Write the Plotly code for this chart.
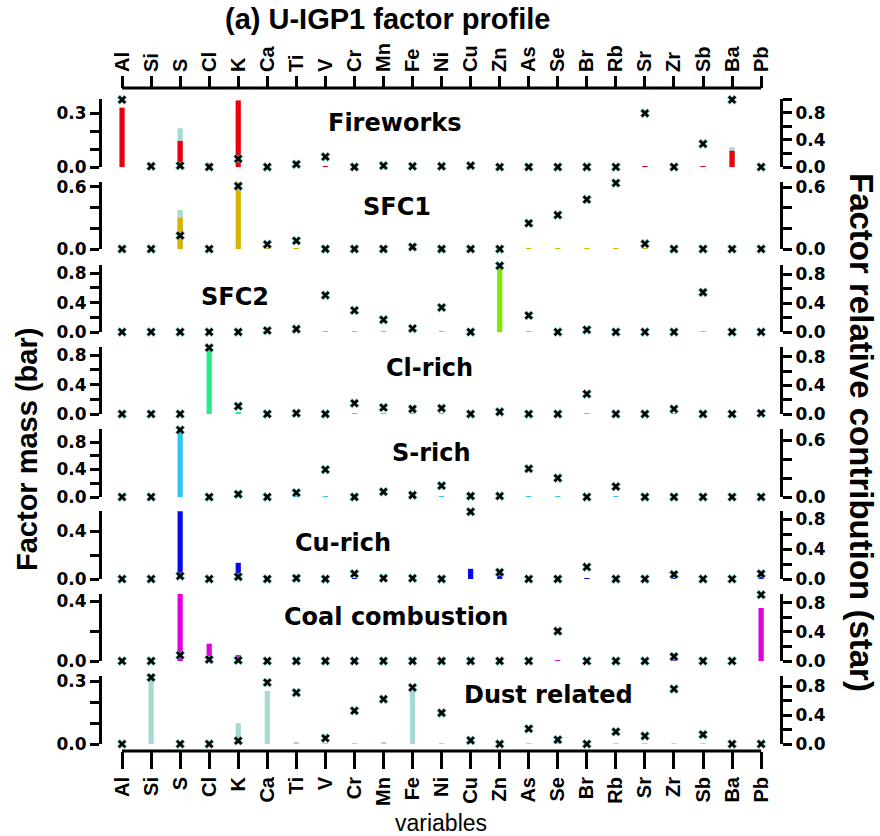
import plotly.graph_objects as go

# ---------------------------------------------------------------------------
# Data
# ---------------------------------------------------------------------------
elements = ["Al", "Si", "S", "Cl", "K", "Ca", "Ti", "V", "Cr", "Mn", "Fe", "Ni",
            "Cu", "Zn", "As", "Se", "Br", "Rb", "Sr", "Zr", "Sb", "Ba", "Pb"]

factor_names = ["Fireworks", "SFC1", "SFC2", "Cl-rich", "S-rich", "Cu-rich",
                "Coal combustion", "Dust related"]

#                   Al    Si    S      Cl     K      Ca     Ti     V      Cr     Mn     Fe     Ni     Cu     Zn     As     Se     Br     Rb     Sr     Zr     Sb     Ba     Pb
fireworks_mass    = [0.33, 0.0,  0.145, 0.02,  0.37,  0.0,   0.0,   0.005, 0.0,   0.0,   0.0,   0.0,   0.0,   0.0,   0.0,   0.0,   0.0,   0.0,   0.005, 0.0,   0.005, 0.09,  0.0]
fireworks_upper   = [0.0,  0.0,  0.215, 0.0,   0.0,   0.0,   0.0,   0.0,   0.0,   0.0,   0.0,   0.0,   0.0,   0.0,   0.0,   0.0,   0.0,   0.0,   0.0,   0.0,   0.0,   0.11,  0.0]
fireworks_contrib = [0.99, 0.01, 0.02,  0.0,   0.12,  0.0,   0.04,  0.15,  0.0,   0.02,  0.01,  0.01,  0.02,  0.0,   0.0,   0.0,   0.0,   0.0,   0.79,  0.0,   0.34,  0.99,  0.0]

sfc1_mass         = [0.0,  0.0,  0.30,  0.0,   0.64,  0.006, 0.006, 0.0,   0.0,   0.0,   0.0,   0.0,   0.0,   0.0,   0.006, 0.006, 0.006, 0.006, 0.006, 0.0,   0.0,   0.0,   0.0]
sfc1_upper        = [0.0,  0.0,  0.375, 0.0,   0.0,   0.0,   0.0,   0.0,   0.0,   0.0,   0.0,   0.0,   0.0,   0.0,   0.0,   0.0,   0.0,   0.0,   0.0,   0.0,   0.0,   0.0,   0.0]
sfc1_contrib      = [0.0,  0.0,  0.13,  0.0,   0.61,  0.045, 0.08,  0.0,   0.0,   0.0,   0.02,  0.0,   0.0,   0.0,   0.25,  0.33,  0.48,  0.64,  0.05,  0.0,   0.0,   0.0,   0.0]

sfc2_mass         = [0.0,  0.0,  0.0,   0.0,   0.0,   0.0,   0.0,   0.008, 0.008, 0.008, 0.05,  0.008, 0.0,   0.90,  0.008, 0.0,   0.0,   0.0,   0.0,   0.0,   0.008, 0.0,   0.0]
sfc2_contrib      = [0.0,  0.0,  0.0,   0.0,   0.0,   0.02,  0.04,  0.51,  0.30,  0.17,  0.05,  0.34,  0.0,   0.92,  0.23,  0.0,   0.03,  0.0,   0.0,   0.0,   0.55,  0.0,   0.0]

clrich_mass       = [0.0,  0.0,  0.0,   0.91,  0.02,  0.0,   0.0,   0.0,   0.008, 0.008, 0.008, 0.008, 0.0,   0.0,   0.0,   0.0,   0.008, 0.0,   0.0,   0.01,  0.0,   0.0,   0.0]
clrich_contrib    = [0.0,  0.0,  0.0,   0.93,  0.11,  0.0,   0.01,  0.0,   0.15,  0.09,  0.07,  0.08,  0.0,   0.03,  0.0,   0.0,   0.28,  0.0,   0.0,   0.07,  0.0,   0.0,   0.01]

srich_mass        = [0.0,  0.0,  0.97,  0.0,   0.0,   0.0,   0.01,  0.008, 0.0,   0.0,   0.0,   0.008, 0.0,   0.0,   0.008, 0.008, 0.0,   0.008, 0.0,   0.0,   0.0,   0.0,   0.0]
srich_contrib     = [0.0,  0.0,  0.71,  0.0,   0.03,  0.0,   0.045, 0.29,  0.0,   0.055, 0.02,  0.12,  0.01,  0.01,  0.30,  0.20,  0.0,   0.11,  0.0,   0.0,   0.0,   0.0,   0.0]

curich_mass       = [0.0,  0.0,  0.565, 0.0,   0.135, 0.0,   0.0,   0.0,   0.006, 0.0,   0.0,   0.0,   0.085, 0.07,  0.0,   0.0,   0.006, 0.0,   0.0,   0.006, 0.0,   0.0,   0.06]
curich_contrib    = [0.0,  0.0,  0.04,  0.0,   0.03,  0.0,   0.01,  0.0,   0.07,  0.01,  0.01,  0.0,   0.90,  0.09,  0.0,   0.0,   0.16,  0.0,   0.0,   0.06,  0.0,   0.0,   0.07]

coal_mass         = [0.0,  0.0,  0.45,  0.116, 0.04,  0.0,   0.0,   0.0,   0.0,   0.0,   0.0,   0.0,   0.0,   0.0,   0.0,   0.006, 0.0,   0.0,   0.0,   0.008, 0.0,   0.0,   0.356]
coal_contrib      = [0.0,  0.0,  0.08,  0.02,  0.01,  0.0,   0.0,   0.0,   0.0,   0.0,   0.0,   0.0,   0.0,   0.0,   0.0,   0.41,  0.0,   0.0,   0.0,   0.06,  0.0,   0.0,   0.91]

dust_mass         = [0.0,  0.31, 0.0,   0.0,   0.10,  0.254, 0.01,  0.004, 0.004, 0.006, 0.27,  0.004, 0.004, 0.004, 0.004, 0.004, 0.004, 0.004, 0.004, 0.004, 0.004, 0.0,   0.0]
dust_contrib      = [0.0,  0.92, 0.0,   0.0,   0.045, 0.85,  0.71,  0.08,  0.46,  0.62,  0.78,  0.43,  0.05,  0.0,   0.21,  0.06,  0.0,   0.17,  0.11,  0.76,  0.13,  0.0,   0.0]

# ---------------------------------------------------------------------------
# Styling / geometry
# ---------------------------------------------------------------------------
W, H = 880, 836
PL, PR, PT, PB = 102, 780, 88, 751          # plot-area pixel box

def px_x(p):
    return (p - PL) / (PR - PL)

def px_y(p):
    return (PB - p) / (PB - PT)

TEAL = "#a6d9d2"
factors = [
    dict(name=factor_names[0], color="#e8000b", mass=fireworks_mass, upper=fireworks_upper, contrib=fireworks_contrib),
    dict(name=factor_names[1], color="#d8b400", mass=sfc1_mass, upper=sfc1_upper, contrib=sfc1_contrib),
    dict(name=factor_names[2], color="#77ee00", mass=sfc2_mass, upper=None, contrib=sfc2_contrib),
    dict(name=factor_names[3], color="#22ee88", mass=clrich_mass, upper=None, contrib=clrich_contrib),
    dict(name=factor_names[4], color="#2ec4f4", mass=srich_mass, upper=None, contrib=srich_contrib),
    dict(name=factor_names[5], color="#0a0ae8", mass=curich_mass, upper=None, contrib=curich_contrib),
    dict(name=factor_names[6], color="#dd00dd", mass=coal_mass, upper=None, contrib=coal_contrib),
    dict(name=factor_names[7], color=TEAL, mass=dust_mass, upper=None, contrib=dust_contrib),
]

# panel pixel top / zero line, axis maxima, tick values and labelled ticks
panels = [
    dict(top=99,  zero=167, lmax=0.378, rmax=1.0,
         lt=[0, .1, .2, .3], ll=[0, .3], rt=[0, .2, .4, .6, .8, 1.0], rl=[0, .4, .8]),
    dict(top=182, zero=249, lmax=0.645, rmax=0.65,
         lt=[0, .2, .4, .6], ll=[0, .6], rt=[0, .2, .4, .6], rl=[0, .6]),
    dict(top=265, zero=332, lmax=0.91, rmax=0.93,
         lt=[0, .2, .4, .6, .8], ll=[0, .4, .8], rt=[0, .2, .4, .6, .8], rl=[0, .4, .8]),
    dict(top=347, zero=414, lmax=0.91, rmax=0.94,
         lt=[0, .2, .4, .6, .8], ll=[0, .4, .8], rt=[0, .2, .4, .6, .8], rl=[0, .4, .8]),
    dict(top=429, zero=497, lmax=0.99, rmax=0.72,
         lt=[0, .2, .4, .6, .8], ll=[0, .4, .8], rt=[0, .2, .4, .6], rl=[0, .6]),
    dict(top=511, zero=579, lmax=0.567, rmax=0.91,
         lt=[0, .2, .4], ll=[0, .4], rt=[0, .2, .4, .6, .8], rl=[0, .4, .8]),
    dict(top=594, zero=661, lmax=0.45, rmax=0.92,
         lt=[0, .2, .4], ll=[0, .4], rt=[0, .2, .4, .6, .8], rl=[0, .4, .8]),
    dict(top=676, zero=744, lmax=0.326, rmax=0.94,
         lt=[0, .1, .2, .3], ll=[0, .3], rt=[0, .2, .4, .6, .8], rl=[0, .4, .8]),
]
label_pos = [(394, 123), (397, 207), (235, 297), (429, 368), (431, 453),
             (343, 543), (396, 617), (548, 695)]

NUM_FONT = dict(family="DejaVu Sans", size=17, color="black", weight="bold")
BAR_W = 0.18
x_idx = list(range(len(elements)))

fig = go.Figure()
layout = {}

def fmt(vals, labelled):
    return ["%.1f" % v if any(abs(v - l) < 1e-9 for l in labelled) else "" for v in vals]

for i, (f, p) in enumerate(zip(factors, panels)):
    lid, rid = i + 1, i + 9
    lref = "y" if lid == 1 else f"y{lid}"
    rref = f"y{rid}"
    lkey = "yaxis" if lid == 1 else f"yaxis{lid}"
    rkey = f"yaxis{rid}"
    dom = [px_y(p["zero"]), px_y(p["top"])]

    if f["upper"] is not None:
        fig.add_trace(go.Bar(x=x_idx, y=f["upper"], width=BAR_W, marker_color=TEAL,
                             marker_line_width=0, yaxis=lref, xaxis="x",
                             cliponaxis=False, showlegend=False, hoverinfo="skip"))
    fig.add_trace(go.Bar(x=x_idx, y=f["mass"], width=BAR_W, marker_color=f["color"],
                         marker_line_width=0, yaxis=lref, xaxis="x", name=f["name"],
                         cliponaxis=False, showlegend=False))
    fig.add_trace(go.Scatter(x=x_idx, y=f["contrib"], mode="markers", yaxis=rref, xaxis="x",
                             marker=dict(symbol="x", size=8, color="black",
                                         line=dict(width=0.8, color="#6cc9c0")),
                             cliponaxis=False, showlegend=False, name=f["name"]))

    common = dict(showgrid=False, zeroline=False, showline=True, linewidth=3,
                  linecolor="black", ticks="outside", ticklen=9, tickwidth=2.5,
                  tickcolor="black", tickfont=NUM_FONT, anchor="x")
    layout[lkey] = dict(domain=dom, range=[0, p["lmax"]], tickvals=p["lt"],
                        ticktext=fmt(p["lt"], p["ll"]), side="left", **common)
    layout[rkey] = dict(domain=dom, range=[0, p["rmax"]], tickvals=p["rt"],
                        ticktext=fmt(p["rt"], p["rl"]), side="right",
                        overlaying=lref, **common)

# invisible helper so the top category axis is drawn
fig.add_trace(go.Scatter(x=[0], y=[0], xaxis="x2", yaxis="y", mode="markers",
                         marker=dict(opacity=0), showlegend=False, hoverinfo="skip"))

XMIN, XMAX = -0.69, 22.65
cat_font = dict(family="Liberation Sans", size=20, color="black", weight="bold")
layout["xaxis"] = dict(range=[XMIN, XMAX], anchor="free", position=0, showgrid=False,
                       zeroline=False, showline=False, tickvals=x_idx, ticktext=elements,
                       tickangle=-90, ticks="outside", ticklen=17, tickwidth=2.5,
                       tickcolor="black", tickfont=cat_font)
layout["xaxis2"] = dict(range=[XMIN, XMAX], anchor="free", position=1, side="top",
                        overlaying="x", matches="x", showgrid=False, zeroline=False,
                        showline=False, tickvals=x_idx, ticktext=elements, tickangle=-90,
                        ticks="outside", ticklen=12, tickwidth=2.5, tickcolor="black",
                        tickfont=cat_font)

# category axis baselines spanning the first to the last element
shapes = [
    dict(type="line", xref="x", yref="paper", x0=0, x1=len(elements) - 1, y0=0, y1=0,
         line=dict(color="black", width=3)),
    dict(type="line", xref="x", yref="paper", x0=0, x1=len(elements) - 1, y0=1, y1=1,
         line=dict(color="black", width=3)),
]

annotations = []
for f, (ax, ay) in zip(factors, label_pos):
    annotations.append(dict(text=f["name"], xref="paper", yref="paper", x=px_x(ax), y=px_y(ay),
                            showarrow=False, xanchor="center", yanchor="middle",
                            font=dict(family="DejaVu Sans", size=24, color="black", weight="bold")))

annotations += [
    dict(text="(a) U-IGP1 factor profile", xref="paper", yref="paper", x=px_x(388), y=px_y(19),
         showarrow=False, xanchor="center", yanchor="middle",
         font=dict(family="Liberation Sans", size=29, color="black", weight="bold")),
    dict(text="Factor mass (bar)", xref="paper", yref="paper", x=px_x(27), y=px_y(450),
         showarrow=False, textangle=-90, xanchor="center", yanchor="middle",
         font=dict(family="Liberation Sans", size=29, color="black", weight="bold")),
    dict(text="Factor relative contribution (star)", xref="paper", yref="paper", x=px_x(861),
         y=px_y(432), showarrow=False, textangle=90, xanchor="center", yanchor="middle",
         font=dict(family="Liberation Sans", size=33, color="black", weight="bold")),
    dict(text="variables", xref="paper", yref="paper", x=px_x(441), y=px_y(823),
         showarrow=False, xanchor="center", yanchor="middle",
         font=dict(family="Liberation Sans Narrow, Liberation Sans", size=23, color="black")),
]

fig.update_layout(width=W, height=H, margin=dict(l=PL, r=W - PR, t=PT, b=H - PB),
                  paper_bgcolor="white", plot_bgcolor="white", barmode="overlay",
                  showlegend=False, shapes=shapes, annotations=annotations, **layout)

fig.write_html("out.html")
